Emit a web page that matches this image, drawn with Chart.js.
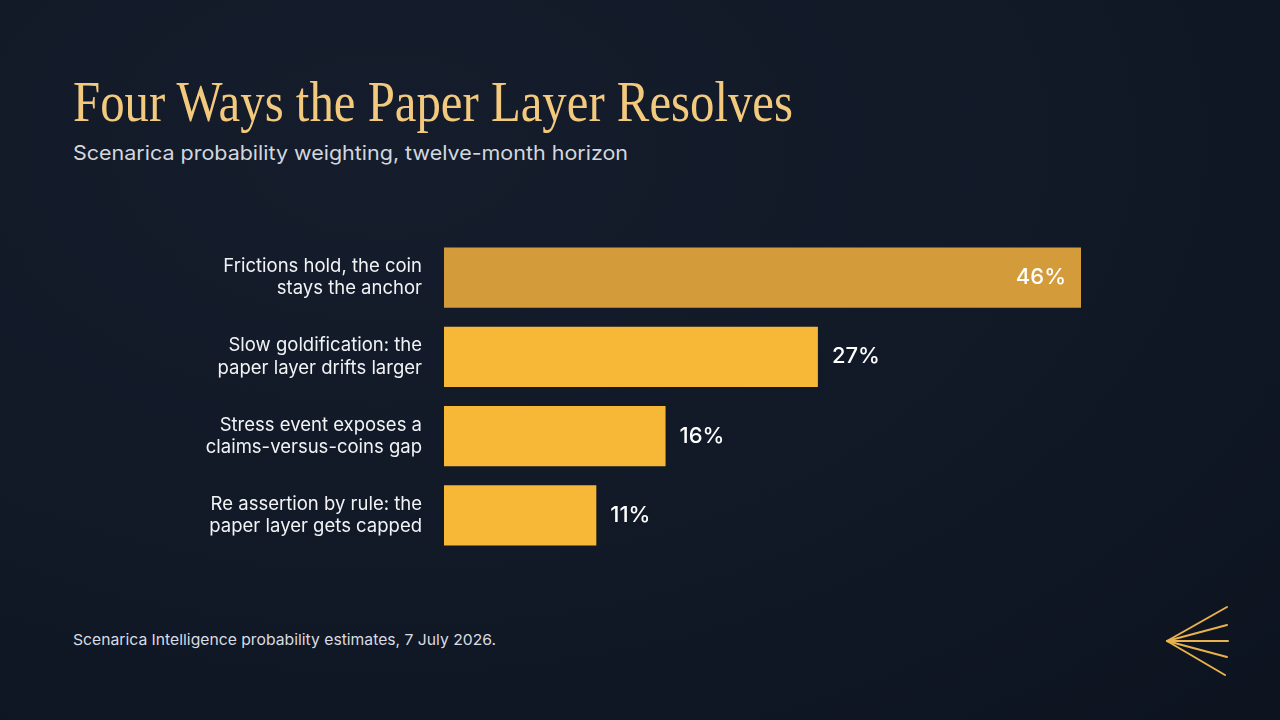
<!DOCTYPE html>
<html>
<head>
<meta charset="utf-8">
<script src="https://cdn.jsdelivr.net/npm/chart.js@4.4.1/dist/chart.umd.min.js"></script>
<style>
  html, body { margin:0; padding:0; }
  body {
    width:1280px; height:720px; overflow:hidden; position:relative;
    background: radial-gradient(ellipse at 30% 20%, #151d2c 0%, #111826 55%, #0d1420 100%);
    font-family: Inter, "Noto Sans", sans-serif;
  }
  #title {
    position:absolute; left:73px; top:72px; margin:0;
    font-family:"Liberation Serif", "DejaVu Serif", serif; font-weight:400;
    font-size:56px; line-height:60px; color:#F3C97E; white-space:nowrap;
    transform-origin:0 0;
  }
  #subtitle {
    position:absolute; left:73px; top:140px; margin:0;
    font-size:20px; line-height:26px; color:#D3D7DF; white-space:nowrap; transform-origin:0 0;
  }
  #footer {
    position:absolute; left:73px; top:629px; margin:0;
    font-size:15px; line-height:22px; color:#D9DCE2; white-space:nowrap; transform-origin:0 0;
  }
  #wrap { position:absolute; left:200px; top:238px; width:881px; height:317px; }
  #logo { position:absolute; left:1150px; top:595px; }
</style>
</head>
<body>
<div id="title">Four Ways the Paper Layer Resolves</div>
<div id="subtitle">Scenarica probability weighting, twelve-month horizon</div>
<div id="wrap"><canvas id="c"></canvas></div>
<div id="footer">Scenarica Intelligence probability estimates, 7 July 2026.</div>
<svg id="logo" width="90" height="90" viewBox="0 0 90 90">
  <g stroke="#E9B24C" stroke-width="2" stroke-linecap="round" fill="none">
    <line x1="17" y1="46" x2="77" y2="12"/>
    <line x1="17" y1="46" x2="77" y2="30"/>
    <line x1="17" y1="46" x2="78" y2="46"/>
    <line x1="17" y1="46" x2="77" y2="62"/>
    <line x1="17" y1="46" x2="75" y2="80"/>
  </g>
</svg>
<script>
const categories = [
  ["Frictions hold, the coin", "stays the anchor"],
  ["Slow goldification: the", "paper layer drifts larger"],
  ["Stress event exposes a", "claims-versus-coins gap"],
  ["Re assertion by rule: the", "paper layer gets capped"]
];
const probabilities = [46, 27, 16, 11];
const valueLabels = ["46%", "27%", "16%", "11%"];
const barColors = ["#D49B3B", "#F7B737", "#F7B737", "#F7B737"];

function fitWidth(id, w) {
  const el = document.getElementById(id);
  const r = el.getBoundingClientRect().width;
  el.style.transform = "scaleX(" + (w / r) + ")";
}
fitWidth("title", 720);
fitWidth("subtitle", 555);
fitWidth("footer", 423);

const valuePlugin = {
  id: "valueLabels",
  afterDatasetsDraw(chart) {
    const ctx = chart.ctx;
    const meta = chart.getDatasetMeta(0);
    ctx.save();
    ctx.font = "500 22px Inter, 'Noto Sans', sans-serif";
    ctx.fillStyle = "#FFFFFF";
    ctx.textBaseline = "middle";
    meta.data.forEach((bar, i) => {
      if (i === 0) {
        ctx.textAlign = "right";
        ctx.fillText(valueLabels[i], bar.x - 15, bar.y);
      } else {
        ctx.textAlign = "left";
        ctx.fillText(valueLabels[i], bar.x + 14, bar.y);
      }
    });
    ctx.restore();
  }
};

new Chart(document.getElementById("c"), {
  type: "bar",
  data: {
    labels: categories,
    datasets: [{
      data: probabilities,
      backgroundColor: barColors,
      borderWidth: 0,
      barPercentage: 1,
      categoryPercentage: 0.76
    }]
  },
  options: {
    indexAxis: "y",
    responsive: true,
    maintainAspectRatio: false,
    animation: false,
    layout: { padding: 0 },
    plugins: { legend: { display: false }, tooltip: { enabled: false } },
    scales: {
      x: { display: false, min: 0, max: 46 },
      y: {
        grid: { display: false, drawTicks: false },
        border: { display: false },
        ticks: {
          color: "#F2F3F5",
          font: { family: "Inter, 'Noto Sans', sans-serif", size: 18.5, lineHeight: 1.2 },
          padding: 22
        },
        afterFit(scale) {
          scale.width = 244;
          scale.paddingTop = 0;
          scale.paddingBottom = 0;
        }
      }
    }
  },
  plugins: [valuePlugin]
});
</script>
</body>
</html>
